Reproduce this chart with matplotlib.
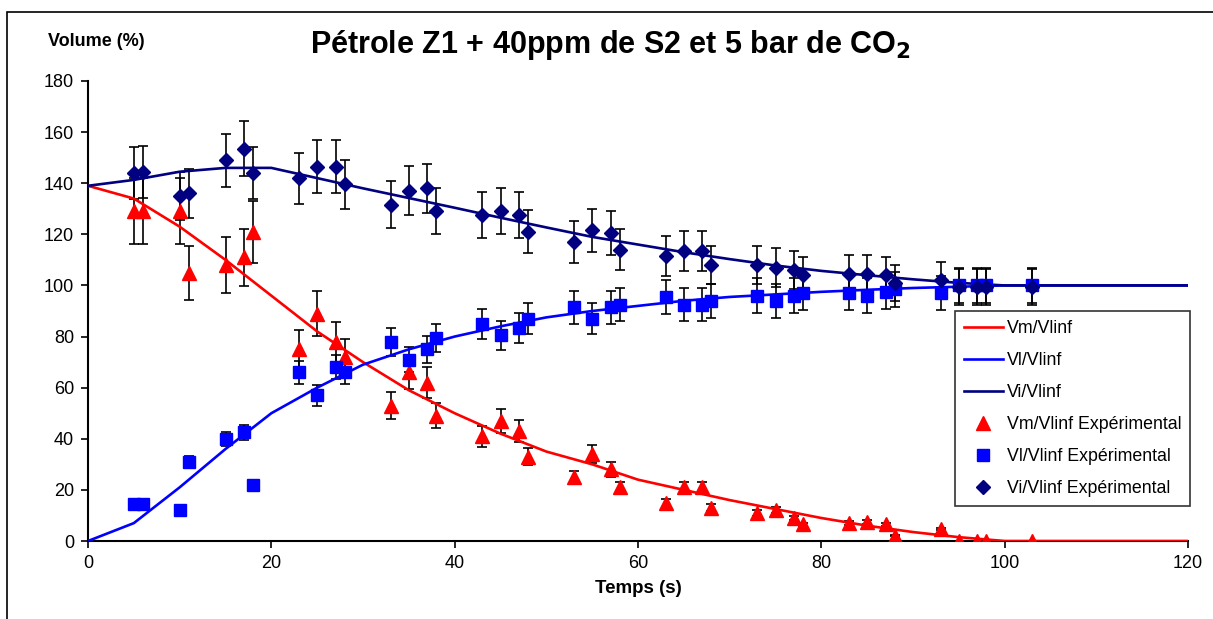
import numpy as np
import matplotlib.pyplot as plt
from matplotlib.patches import Rectangle

plt.rcParams['font.family'] = ['Liberation Sans', 'DejaVu Sans']

# modèle
t_mod = [0, 5, 10, 15, 20, 25, 30, 35, 40, 45, 50, 55, 60, 65, 70, 75, 80, 85, 90, 95, 100, 105, 110, 115, 120]
vm_mod = [139, 134, 123, 110, 96, 82, 70, 59, 50, 42, 35, 30, 24, 20, 16, 12.5, 9, 6, 3.5, 1.5, 0, 0, 0, 0, 0]
vl_mod = [0, 7, 21, 36, 50, 60, 69, 75, 80, 84, 87.5, 90, 92, 94, 95.5, 96.5, 97.5, 98.3, 99, 99.5, 100, 100, 100, 100, 100]
vi_mod = [139, 141.3, 144.5, 146, 146, 142, 138, 134.2, 130.4, 126.5, 122.7, 119, 116, 113, 110.3, 107.8, 105.7, 104, 102.4, 101, 100, 100, 100, 100, 100]

# expérimental
t_exp = [5, 6, 10, 11, 15, 17, 18, 23, 25, 27, 28, 33, 35, 37, 38, 43, 45, 47, 48, 53,
         55, 57, 58, 63, 65, 67, 68, 73, 75, 77, 78, 83, 85, 87, 88, 93, 95, 97, 98, 103]
vm_exp = [129, 129, 129, 105, 108, 111, 121, 75, 89, 78, 72, 53, 66, 62, 49, 41, 47, 43, 33, 25,
          34, 28, 21, 15, 21, 21, 13, 11, 12, 9, 6.5, 7, 7.5, 6.5, 2, 4.6, 0, 0, 0, 0]
vl_exp = [14.5, 14.5, 12, 31, 40, 42.5, 22, 66, 57, 68, 66, 78, 71, 75, 79.5, 85, 80.5, 83.5, 87, 91.5,
          87, 91.5, 92.5, 95.5, 92.5, 92.5, 94, 96, 94, 96, 97, 97, 96, 97.5, 98.5, 97, 100, 100, 100, 100]
vi_exp = [144, 144.5, 135, 136, 149, 153.5, 144, 142, 146.5, 146.5, 139.5, 131.5, 137, 138, 129, 127.5, 129, 127.5, 121, 117,
          121.5, 120.5, 114, 111.5, 113.5, 113.5, 108, 108, 107, 106, 104, 104.5, 104.5, 104, 101, 102, 99.5, 99.5, 99.5, 99.5]

fig = plt.figure(figsize=(12.13, 6.19), dpi=100)
ax = fig.add_axes([88/1213, 78/619, 1100/1213, 460/619])

# cadre du graphique
fig.patches.append(Rectangle((7/1213, -0.1), 1.2, 0.1 + 607/619, transform=fig.transFigure,
                             fill=False, edgecolor='black', linewidth=1.2))

ax.plot(t_mod, vm_mod, color='#ff0000', lw=1.9, label='Vm/Vlinf', zorder=3)
ax.plot(t_mod, vl_mod, color='#0000ff', lw=1.9, label='Vl/Vlinf', zorder=3)
ax.plot(t_mod, vi_mod, color='#000080', lw=1.9, label='Vi/Vlinf', zorder=3)

vm_exp = np.array(vm_exp)
vl_exp = np.array(vl_exp)
vi_exp = np.array(vi_exp)
ax.errorbar(t_exp, vm_exp, yerr=0.10 * vm_exp, fmt='none', ecolor='black', elinewidth=1.2, capsize=3.3, capthick=1.2, zorder=2)
ax.errorbar(t_exp, vl_exp, yerr=0.07 * vl_exp, fmt='none', ecolor='black', elinewidth=1.2, capsize=3.3, capthick=1.2, zorder=2)
ax.errorbar(t_exp, vi_exp, yerr=0.07 * vi_exp, fmt='none', ecolor='black', elinewidth=1.2, capsize=3.3, capthick=1.2, zorder=2)

ax.plot(t_exp, vm_exp, '^', color='#ff0000', ms=9.5, ls='none', label='Vm/Vlinf Expérimental', zorder=4)
ax.plot(t_exp, vl_exp, 's', color='#0000ff', ms=8.5, ls='none', label='Vl/Vlinf Expérimental', zorder=4)
ax.plot(t_exp, vi_exp, 'D', color='#000080', ms=7.5, ls='none', label='Vi/Vlinf Expérimental', zorder=4)

ax.set_xlim(0, 120)
ax.set_ylim(0, 180)
ax.set_xticks(range(0, 121, 20))
ax.set_yticks(range(0, 181, 20))
ax.spines['top'].set_visible(False)
ax.spines['right'].set_visible(False)
ax.spines['left'].set_linewidth(1.5)
ax.spines['bottom'].set_linewidth(1.5)
ax.tick_params(direction='out', length=5, width=1.2, labelsize=13, pad=5)

ax.set_xlabel('Temps (s)', fontsize=13.5, fontweight='bold', labelpad=6)
fig.text(48/1213, 1 - 42/619, 'Volume (%)', fontsize=13, fontweight='bold', va='center', ha='left')
fig.text(611/1213, 1 - 45/619, 'Pétrole Z1 + 40ppm de S2 et 5 bar de CO$_\\mathbf{2}$',
         fontsize=22, fontweight='bold', ha='center', va='center')

leg = ax.legend(loc='upper left', bbox_to_anchor=(867/1100, 1 - 230/460), fontsize=12.8,
                frameon=True, fancybox=False, edgecolor='black', borderpad=0.5,
                labelspacing=0.85, handlelength=2.2, handletextpad=0.2, borderaxespad=0)
leg.get_frame().set_linewidth(1.2)

fig.savefig('out.png', dpi=100)
